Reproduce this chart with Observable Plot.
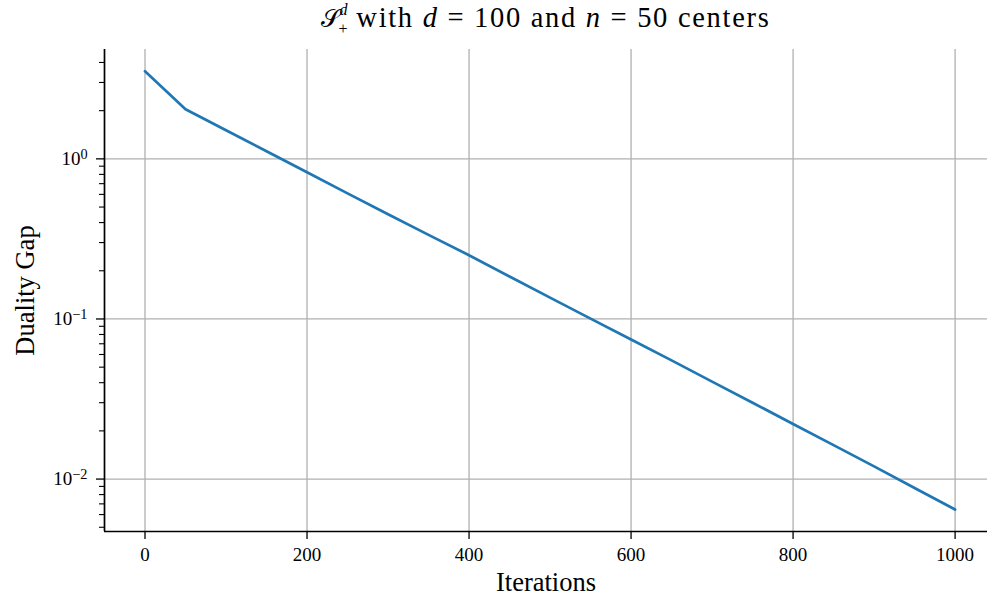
<!DOCTYPE html>
<html>
<head>
<meta charset="utf-8">
<script src="https://cdn.jsdelivr.net/npm/d3@7"></script>
<script src="https://cdn.jsdelivr.net/npm/@observablehq/plot@0.6"></script>
<style>
  html, body { margin: 0; padding: 0; background: #fff; }
  #wrap { width: 987px; height: 598px; }
</style>
</head>
<body>
<div id="wrap"></div>
<script>
const iterations = [0, 50, 100, 150, 200, 250, 300, 350, 400, 450, 500, 550, 600, 650, 700, 750, 800, 850, 900, 950, 1000];
const dualityGap = [3.53, 2.04, 1.51, 1.115, 0.824, 0.609, 0.451, 0.335, 0.250, 0.184, 0.136, 0.1005, 0.0745, 0.0551, 0.0406, 0.0300, 0.0221, 0.0163, 0.0120, 0.00880, 0.00645];
const xTicks = [0, 200, 400, 600, 800, 1000];
const yMajorTicks = [1, 0.1, 0.01];
const yMajorExponents = ["0", "−1", "−2"];
const yMinorTicks = [0.005, 0.006, 0.007, 0.008, 0.009,
  0.02, 0.03, 0.04, 0.05, 0.06, 0.07, 0.08, 0.09,
  0.2, 0.3, 0.4, 0.5, 0.6, 0.7, 0.8, 0.9,
  2, 3, 4];
const titleText = {sym: "𝒮", sup: "d", sub: "+", rest: [" with ", "d", " = 100 and ", "n", " = 50 centers"]};
const xLabel = "Iterations";
const yLabel = "Duality Gap";

const data = iterations.map((x, i) => ({x, y: dualityGap[i]}));
const xDomain = [-50, 1040];
const yDomain = [0.004705, 4.82];
const FONT = '"Liberation Serif", "DejaVu Serif", serif';

const chart = Plot.plot({
  width: 987,
  height: 598,
  marginLeft: 104,
  marginRight: 0,
  marginTop: 49,
  marginBottom: 67,
  style: {fontFamily: FONT, fontSize: "19px", color: "#000", background: "#fff"},
  x: {domain: xDomain},
  y: {type: "log", domain: yDomain},
  marks: [
    Plot.gridX(xTicks, {stroke: "#b0b0b0", strokeOpacity: 1, strokeWidth: 1.3}),
    Plot.gridY(yMajorTicks, {stroke: "#b0b0b0", strokeOpacity: 1, strokeWidth: 1.3}),
    Plot.line(data, {x: "x", y: "y", stroke: "#1f77b4", strokeWidth: 2.7}),
    Plot.axisX(xTicks, {tickSize: 8, tickPadding: 8, tickFormat: d => String(d), fontSize: 19, label: null, strokeWidth: 1.3}),
    Plot.axisY(yMajorTicks, {tickSize: 8, tickPadding: 9, tickFormat: d => "10^" + yMajorExponents[yMajorTicks.indexOf(d)], fontSize: 19, label: null, strokeWidth: 1.3}),
    Plot.axisY(yMinorTicks, {tickSize: 5, tickFormat: () => "", label: null, strokeWidth: 1.1}),
    Plot.ruleX([xDomain[0]], {stroke: "#000", strokeWidth: 1.7}),
    Plot.ruleY([yDomain[0]], {stroke: "#000", strokeWidth: 1.7}),
    Plot.text([xLabel], {frameAnchor: "bottom", lineAnchor: "middle", textAnchor: "middle", dy: 51.5, fontSize: 26.5, fill: "#000", letterSpacing: 0.5}),
    Plot.text([yLabel], {frameAnchor: "left", lineAnchor: "middle", textAnchor: "middle", dx: -79, rotate: -90, fontSize: 26.5, fill: "#000", letterSpacing: 0.6})
  ]
});

// superscript exponents on the log tick labels
d3.select(chart).selectAll("text").each(function () {
  const t = this.textContent;
  if (/^10\^/.test(t)) {
    const exp = t.slice(3);
    const sel = d3.select(this);
    sel.text("10");
    sel.append("tspan").attr("dy", "-0.45em").attr("font-size", "75%").text(exp);
  }
});

// title
const svg = d3.select(chart);
const title = svg.append("text")
  .attr("x", 104 + 883 / 2)
  .attr("y", 27)
  .attr("text-anchor", "middle")
  .style("font-family", FONT)
  .style("font-size", "28.5px")
  .style("letter-spacing", "1.7px")
  .attr("fill", "#000");
title.append("tspan").style("font-family", '"DejaVu Serif", serif').style("font-size", "25px").style("letter-spacing", "0px").text(titleText.sym);
title.append("tspan").style("font-style", "italic").style("font-size", "16px").style("letter-spacing", "0px").attr("dy", -12).text(titleText.sup);
title.append("tspan").style("font-size", "16px").style("letter-spacing", "0px").attr("dx", -9).attr("dy", 19).text(titleText.sub);
titleText.rest.forEach((s, i) => {
  const ts = title.append("tspan").text(s);
  if (i === 0) ts.attr("dy", -7);
  if (i % 2 === 1) ts.style("font-style", "italic");
});

document.getElementById("wrap").appendChild(chart);
</script>
</body>
</html>
